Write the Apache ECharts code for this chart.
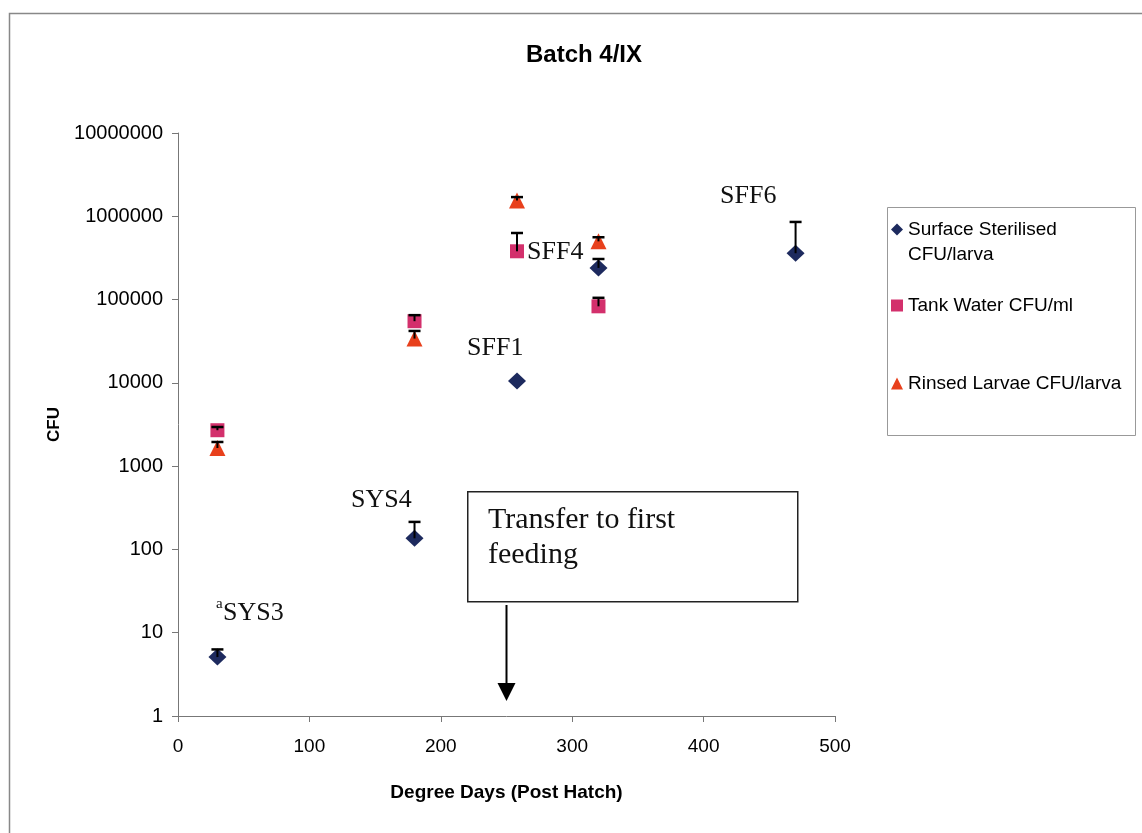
<!DOCTYPE html>
<html><head><meta charset="utf-8">
<script src="https://cdn.jsdelivr.net/npm/echarts@6/dist/echarts.min.js"></script>
<style>html,body{margin:0;padding:0;background:#fff}#c{width:1142px;height:833px}</style>
</head><body><div id="c"></div>
<script>
const seriesNames = ['Surface Sterilised CFU/larva', 'Tank Water CFU/ml', 'Rinsed Larvae CFU/larva'];
const ssX = [30, 180, 258, 320, 470];
const ssY = [5.1, 136, 10500, 240000, 360000];
const ssUpper = [6.3, 214, null, 307000, 855000];
const twX = [30, 180, 258, 320];
const twY = [2700, 55000, 380000, 83000];
const twUpper = [2950, 65000, 630000, 105000];
const rlX = [30, 180, 258, 320];
const rlY = [1650, 34000, 1550000, 500000];
const rlUpper = [1950, 42000, 1700000, 560000];
const xTicks = [0, 100, 200, 300, 400, 500];
const yTicks = [1, 10, 100, 1000, 10000, 100000, 1000000, 10000000];
const annotations = [
  {text: 'SFF6', x: 720, y: 196},
  {text: 'SFF4', x: 527, y: 252},
  {text: 'SFF1', x: 467, y: 348},
  {text: 'SYS4', x: 351, y: 500},
  {text: 'SYS3', x: 223, y: 613}
];
const transferX = 250;

const colors = ['#1d2a5e', '#d3306c', '#e8401c'];
const symbols = ['diamond', 'rect', 'triangle'];
const symbolSizes = [[18, 17], 14, 16];

function pts(xs, ys) { return xs.map((x, i) => [x, ys[i]]); }
function errs(xs, ys, us) {
  const out = [];
  xs.forEach((x, i) => { if (us[i] != null) out.push([x, ys[i], us[i]]); });
  return out;
}
const pointData = [pts(ssX, ssY), pts(twX, twY), pts(rlX, rlY)];
const errData = [errs(ssX, ssY, ssUpper), errs(twX, twY, twUpper), errs(rlX, rlY, rlUpper)];

function errRender(params, api) {
  const x = api.value(0);
  const lo = api.coord([x, api.value(1)]);
  const hi = api.coord([x, api.value(2)]);
  const w = 6;
  return {
    type: 'group',
    children: [
      {type: 'line', shape: {x1: lo[0], y1: lo[1], x2: hi[0], y2: hi[1]}, style: {stroke: '#000', lineWidth: 2}},
      {type: 'line', shape: {x1: hi[0] - w, y1: hi[1], x2: hi[0] + w, y2: hi[1]}, style: {stroke: '#000', lineWidth: 2.5}}
    ]
  };
}

const chart = echarts.init(document.getElementById('c'), null, {renderer: 'canvas'});
const series = [];
seriesNames.forEach((n, i) => {
  series.push({
    name: n, type: 'scatter', data: pointData[i], symbol: symbols[i], symbolSize: symbolSizes[i],
    itemStyle: {color: colors[i], opacity: 1}, z: 3
  });
});
seriesNames.forEach((n, i) => {
  series.push({
    name: n + ' error', type: 'custom', data: errData[i], renderItem: errRender,
    encode: {x: 0, y: [1, 2]}, z: 4, silent: true
  });
});

const legendTops = [192, 293, 371];
const legends = seriesNames.map((n, i) => ({
  data: [n], left: 891, top: legendTops[i], orient: 'vertical', padding: 0,
  itemWidth: 12, itemHeight: 12, selectedMode: false,
  formatter: (name) => name === seriesNames[0] ? ' \nSurface Sterilised\nCFU/larva' : name,
  textStyle: {fontFamily: 'Liberation Sans, Arial', fontSize: 19, color: '#000', lineHeight: 25}
}));

const graphics = [
  {type: 'rect', left: 7, top: 11, shape: {x: 0, y: 0, width: 1200, height: 900}, style: {fill: 'none', stroke: '#888', lineWidth: 1.5}, silent: true},
  {type: 'rect', left: 885, top: 205, shape: {x: 0, y: 0, width: 248, height: 228}, style: {fill: 'none', stroke: '#999', lineWidth: 1}, silent: true},
  {type: 'rect', left: 467, top: 491, shape: {x: 0, y: 0, width: 330, height: 110}, style: {fill: '#fff', stroke: '#222', lineWidth: 1.5}, z: 1},
  {type: 'text', left: 488, top: 503, style: {text: 'Transfer to first\nfeeding', font: '30px "Liberation Serif", "Times New Roman", serif', fill: '#111', lineHeight: 35}, z: 2}
];
annotations.forEach(a => {
  graphics.push({type: 'text', x: a.x, y: a.y, style: {text: a.text, font: '26px "Liberation Serif", "Times New Roman", serif', fill: '#111', textVerticalAlign: 'middle'}, z: 2});
});
graphics.push({type: 'text', x: 216, y: 604, style: {text: 'a', font: '15px "Liberation Serif", serif', fill: '#111', textVerticalAlign: 'middle'}, z: 2});

chart.setOption({
  animation: false,
  backgroundColor: '#fff',
  title: {text: 'Batch 4/IX', left: 579, top: 38, textAlign: 'center',
    textStyle: {fontFamily: 'Liberation Sans, Arial', fontWeight: 'bold', fontSize: 24, color: '#000'}},
  legend: legends,
  grid: {left: 178, right: 307, top: 133, bottom: 117, containLabel: false},
  xAxis: {
    type: 'value', min: 0, max: 500, interval: 100,
    name: 'Degree Days (Post Hatch)', nameLocation: 'middle', nameGap: 67,
    nameTextStyle: {fontFamily: 'Liberation Sans, Arial', fontWeight: 'bold', fontSize: 19, color: '#000'},
    axisLine: {lineStyle: {color: '#777', width: 1}},
    axisTick: {show: true, length: 6, lineStyle: {color: '#777'}},
    axisLabel: {color: '#000', fontSize: 19, margin: 21, fontFamily: 'Liberation Sans, Arial',
      formatter: v => xTicks.includes(v) ? String(v) : ''},
    splitLine: {show: false}
  },
  yAxis: {
    type: 'log', logBase: 10, min: 1, max: 10000000,
    name: 'CFU', nameLocation: 'middle', nameGap: 110, nameRotate: 90,
    nameTextStyle: {fontFamily: 'Liberation Sans, Arial', fontWeight: 'bold', fontSize: 17, color: '#000'},
    axisLine: {show: true, lineStyle: {color: '#777', width: 1}},
    axisTick: {show: true, length: 6, lineStyle: {color: '#777'}},
    axisLabel: {color: '#000', fontSize: 20, margin: 15, fontFamily: 'Liberation Sans, Arial',
      formatter: v => { const r = Math.round(v); return yTicks.includes(r) ? String(r) : ''; }},
    splitLine: {show: false}
  },
  graphic: graphics,
  series: series
});

// Arrow marking transfer to first feeding, anchored to the x-axis scale
const ax = chart.convertToPixel({gridIndex: 0}, [transferX, 1])[0];
chart.setOption({
  graphic: graphics.concat([
    {type: 'line', shape: {x1: ax, y1: 605, x2: ax, y2: 688}, style: {stroke: '#000', lineWidth: 2}, z: 2},
    {type: 'polygon', shape: {points: [[ax - 9, 683], [ax + 9, 683], [ax, 701]]}, style: {fill: '#000'}, z: 2}
  ])
});
</script>
</body></html>
